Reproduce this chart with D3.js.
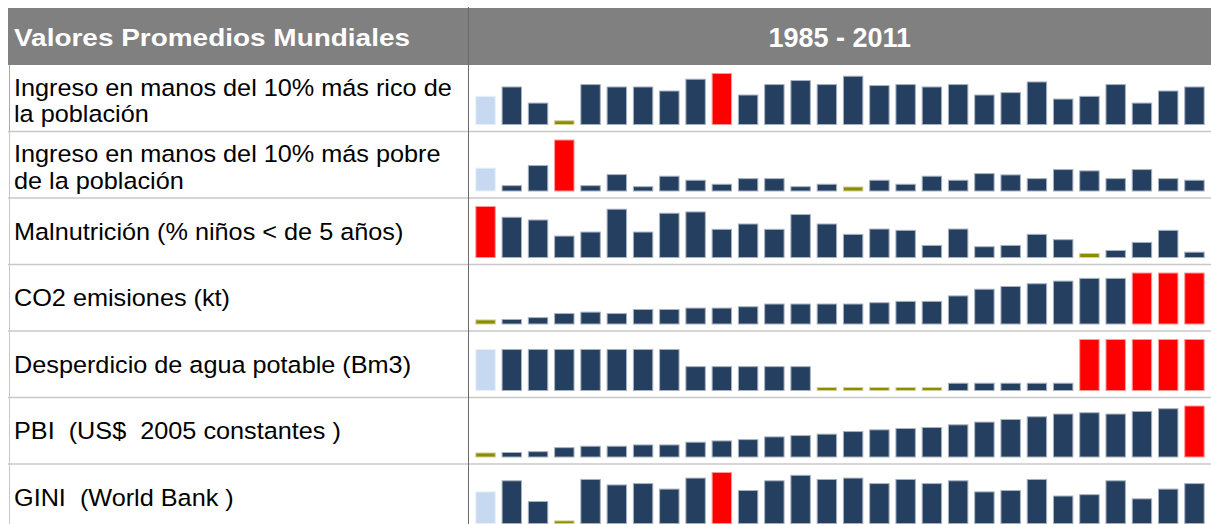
<!DOCTYPE html>
<html>
<head>
<meta charset="utf-8">
<script src="https://cdn.jsdelivr.net/npm/d3@7"></script>
<style>
    html, body { margin: 0; padding: 0; background: #fff; }
    #sparkline-table { width: 1211px; height: 524px; }
    text { font-family: 'Liberation Sans', Arial, sans-serif; }
</style>
</head>
<body>
<div id="sparkline-table"></div>
<script>
// 28 bars per row (header reads 1985 - 2011)
const years = [1984, 1985, 1986, 1987, 1988, 1989, 1990, 1991, 1992, 1993, 1994, 1995, 1996, 1997,
    1998, 1999, 2000, 2001, 2002, 2003, 2004, 2005, 2006, 2007, 2008, 2009, 2010, 2011];

const headerLeft = 'Valores Promedios Mundiales';
const headerRight = '1985 - 2011';

const rowLabels = [
    ['Ingreso en manos del 10% más rico de', 'la población'],
    ['Ingreso en manos del 10% más pobre', 'de la población'],
    ['Malnutrición (% niños < de 5 años)'],
    ['CO2 emisiones (kt)'],
    ['Desperdicio de agua potable (Bm3)'],
    ['PBI  (US$  2005 constantes )'],
    ['GINI  (World Bank )'],
];

// values (relative units)
const ricoValues = [28, 37.3, 21.3, 3.7, 39.7, 37.3, 37.3, 33.3, 45, 50.7, 29.3, 39.7, 43.7, 39.7,
    48, 38.7, 39.7, 37.3, 39.7, 29.3, 31.7, 42.3, 25.3, 28, 39.7, 21.3, 33.3, 37.3];
const pobreValues = [22.7, 5.3, 25.3, 50.7, 5.3, 16.3, 4.3, 14.7, 10.7, 6.7, 12.3, 12.3, 4.3, 6.7,
    4, 10.7, 6.7, 14.7, 10.7, 17.3, 16, 12.3, 21.3, 20, 12.3, 21.3, 12.3, 10.7];
const malnutValues = [50.7, 40, 37.3, 21.3, 25.3, 48, 25.3, 44, 45.3, 28, 33.3, 28, 42.7, 33.3,
    23, 28.3, 27, 12, 28.3, 10.7, 12, 23, 17.7, 4, 7, 15, 27, 5.3];
const co2Values = [4, 4.5, 6.3, 10.3, 11.7, 10.3, 14.3, 14.3, 15.7, 15.7, 17, 19.7, 19.7, 19.7,
    19.7, 21, 22.3, 22.3, 27.7, 34.3, 37, 39.7, 42.3, 45, 45, 50.3, 50.3, 50.3];
const aguaValues = [41.3, 41.3, 41.3, 41.3, 41.3, 41.3, 41.3, 41.3, 24, 24, 24, 24, 24, 3,
    3, 3, 3, 3, 7.3, 7.3, 7.3, 7.3, 7.3, 51.3, 51.3, 51.3, 51.3, 51.3];
const pbiValues = [4, 4.5, 5.3, 9.3, 10.7, 10.7, 12, 12, 14.7, 16, 17.3, 20, 21.3, 22.7,
    25.3, 27, 28.3, 29.3, 32, 34.7, 37.3, 40, 42.7, 44, 42.7, 45.3, 48, 50.7];
const giniValues = [30.5, 41.2, 21.2, 2.5, 42.5, 37.2, 38.5, 33.2, 43.8, 49.2, 31.8, 41.2, 46.5, 42.5,
    43.8, 38.5, 42.5, 38.5, 41.2, 30.5, 31.8, 42.5, 26.5, 27.8, 41.2, 23.8, 33.2, 38.5];

const seriesValues = [ricoValues, pobreValues, malnutValues, co2Values, aguaValues, pbiValues, giniValues];

// ******************************* ******************************* //
// SPARKLINE TABLE //
// ******************************* ******************************* //

class SparkTable {
    constructor(el) {
        const vis = this;
        vis.el = el;
        vis.width = 1211;
        vis.height = 524;

        vis.COLORS = {
            first: '#c6d9f1',
            bar: '#243f60',
            high: '#ff0000',
            low: '#8c8c00',
            header: '#808080',
            grid: '#c8c8c8',
        };

        this.initVis();
    }

    initVis() {
        const vis = this;

        vis.svg = d3.select(vis.el).append('svg')
            .attr('width', vis.width)
            .attr('height', vis.height);

        vis.tableLeft = 8;
        vis.divX = 468.5;
        vis.headTop = 8;
        vis.headBottom = 65;
        vis.rowH = 66.5;
        vis.barMax = 51;

        // ROW SCALE
        vis.rowY = d3.scaleLinear().domain([0, 1]).range([vis.headBottom, vis.headBottom + vis.rowH]);

        // X SCALE FOR BARS
        vis.x = d3.scaleBand()
            .domain(years)
            .range([vis.divX + 0.5, vis.width])
            .padding(0.26);

        this.drawHeader();
        this.drawRows();
        this.drawGrid();
    }

    drawHeader() {
        const vis = this;

        vis.svg.append('rect')
            .attr('x', vis.tableLeft)
            .attr('y', vis.headTop)
            .attr('width', vis.width - vis.tableLeft)
            .attr('height', vis.headBottom - vis.headTop)
            .attr('fill', vis.COLORS.header);

        vis.svg.append('text')
            .attr('x', 14)
            .attr('y', 46)
            .attr('fill', '#fff')
            .style('font-weight', 'bold')
            .style('font-size', '24px')
            .attr('textLength', 396)
            .attr('lengthAdjust', 'spacingAndGlyphs')
            .text(headerLeft);

        vis.svg.append('text')
            .attr('x', (vis.divX + vis.width) / 2)
            .attr('y', 46.5)
            .attr('text-anchor', 'middle')
            .attr('fill', '#fff')
            .style('font-weight', 'bold')
            .style('font-size', '27px')
            .text(headerRight);
    }

    drawRows() {
        const vis = this;

        vis.rows = vis.svg.selectAll('.row')
            .data(seriesValues)
            .enter()
            .append('g')
            .attr('class', 'row')
            .attr('transform', (d, i) => `translate(0, ${vis.rowY(i)})`);

        // LABELS
        vis.rows.each(function (vals, i) {
            const lines = rowLabels[i];
            const g = d3.select(this);
            const t = g.append('text')
                .attr('fill', '#000')
                .style('font-size', '23.5px')
                .style('white-space', 'pre')
                .attr('transform', 'translate(14, 0) scale(1.075, 1)');

            const base = lines.length === 1 ? vis.rowH / 2 + 8.5 : 31;
            lines.forEach((line, j) => {
                t.append('tspan')
                    .attr('x', 0)
                    .attr('y', base + j * 26.5)
                    .text(line);
            });
        });

        // BARS
        const baseline = 59.5;
        vis.rows.each(function (vals) {
            const g = d3.select(this);
            const maxV = d3.max(vals);
            const minV = d3.min(vals);
            const y = d3.scaleLinear().domain([0, maxV]).range([baseline, baseline - vis.barMax]);

            const color = (v, i) => {
                if (v === maxV) return vis.COLORS.high;
                if (v === minV) return vis.COLORS.low;
                if (i === 0) return vis.COLORS.first;
                return vis.COLORS.bar;
            };

            g.selectAll('.bars-data')
                .data(vals)
                .enter()
                .append('rect')
                .attr('class', 'bars-data')
                .attr('x', (d, i) => vis.x(years[i]))
                .attr('width', vis.x.bandwidth())
                .attr('y', d => y(d))
                .attr('height', d => y(0) - y(d))
                .attr('fill', (d, i) => color(d, i))
                .attr('stroke', (d, i) => d3.interpolateRgb(color(d, i), '#ffffff')(0.6))
                .attr('stroke-width', 1);
        });
    }

    drawGrid() {
        const vis = this;
        const n = seriesValues.length;

        // ROW SEPARATORS
        vis.svg.selectAll('.sep')
            .data(d3.range(1, n + 1))
            .enter()
            .append('line')
            .attr('class', 'sep')
            .attr('x1', vis.tableLeft)
            .attr('x2', vis.width)
            .attr('y1', d => vis.rowY(d))
            .attr('y2', d => vis.rowY(d))
            .attr('stroke', vis.COLORS.grid)
            .attr('stroke-width', 1.5);

        // LEFT BORDER
        vis.svg.append('line')
            .attr('x1', vis.tableLeft + 1.5)
            .attr('x2', vis.tableLeft + 1.5)
            .attr('y1', vis.headBottom)
            .attr('y2', vis.height)
            .attr('stroke', vis.COLORS.grid)
            .attr('stroke-width', 1);

        // selected-cell edge on first row
        vis.svg.append('line')
            .attr('x1', vis.tableLeft + 1.5)
            .attr('x2', vis.tableLeft + 1.5)
            .attr('y1', vis.rowY(0))
            .attr('y2', vis.rowY(1) - 1)
            .attr('stroke', '#f79646')
            .attr('stroke-width', 1);

        // COLUMN DIVIDER
        vis.svg.append('line')
            .attr('x1', vis.divX)
            .attr('x2', vis.divX)
            .attr('y1', 7)
            .attr('y2', vis.height)
            .attr('stroke', '#6a6a6a')
            .attr('stroke-width', 1);
    }
}

new SparkTable(document.getElementById('sparkline-table'));
</script>
</body>
</html>
